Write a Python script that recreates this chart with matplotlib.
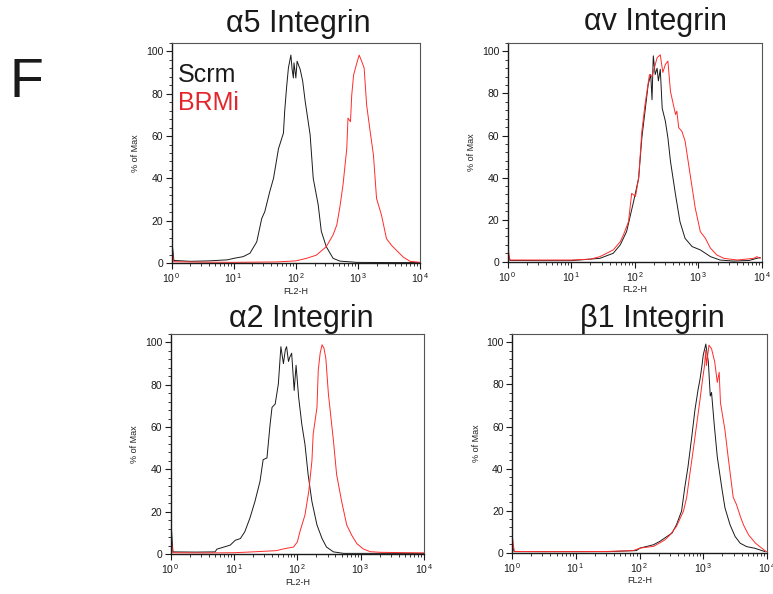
import numpy as np
import matplotlib
matplotlib.use('Agg')
import matplotlib.pyplot as plt
from matplotlib.ticker import FixedLocator, LogLocator, AutoMinorLocator, NullFormatter

plt.rcParams['font.family'] = ['Liberation Sans', 'DejaVu Sans']
plt.rcParams['mathtext.fontset'] = 'custom'
plt.rcParams['mathtext.rm'] = 'Liberation Sans'

# --------------------------------------------------------------------
# -- donnees (position en decades log10, % of Max)
# --------------------------------------------------------------------
titles = ['\u03b15 Integrin', '\u03b1v Integrin', '\u03b12 Integrin', '\u03b21 Integrin']
series_names = ['Scrm', 'BRMi']
x_ticks = [1, 10, 100, 1000, 10000]
x_tick_labels = [r'$\mathregular{10^{\,%d}}$' % k for k in range(5)]
y_ticks = [0, 20, 40, 60, 80, 100]

a5_scrm_dec = [0.005, 0.035, 0.3, 0.6, 0.9, 1.0, 1.15, 1.26, 1.37, 1.45, 1.50, 1.58, 1.64,
               1.72, 1.80, 1.82, 1.85, 1.88, 1.92, 1.94, 1.96, 1.97, 2.0, 2.02, 2.07, 2.11,
               2.15, 2.23, 2.28, 2.36, 2.41, 2.49, 2.60, 2.71, 2.98, 3.5, 4.0]
a5_scrm_pct = [10, 1.2, 0.8, 1.0, 1.5, 2.2, 3.0, 4.6, 10, 21, 24.3, 33.8, 40, 54, 61.4, 71.7,
               82.8, 92.2, 98.3, 91.5, 87.5, 94.6, 87.5, 95.4, 91.5, 86, 76.5, 60.6, 40,
               27.5, 15, 7.7, 2.2, 0.9, 0.3, 0.2, 0.2]
a5_brmi_dec = [0.005, 0.035, 0.5, 1.0, 1.69, 2.0, 2.17, 2.33, 2.49, 2.60, 2.66, 2.71, 2.76,
               2.82, 2.84, 2.88, 2.90, 2.93, 2.98, 3.02, 3.06, 3.10, 3.14, 3.19, 3.25, 3.30,
               3.38, 3.46, 3.54, 3.62, 3.73, 3.84, 4.0]
a5_brmi_pct = [6, 0.6, 0.4, 0.3, 0.5, 1.0, 2.2, 3.7, 7.7, 13.3, 18, 26.6, 37, 54, 68.5, 66.8,
               79.3, 88.8, 94.3, 98.3, 95.4, 92.2, 74.8, 63.7, 51, 30.5, 22.6, 11.5, 8.4, 6,
               2.8, 0.8, 0.3]

av_scrm_dec = [0.005, 0.035, 0.5, 1.0, 1.45, 1.66, 1.77, 1.87, 1.98, 2.06, 2.11, 2.16, 2.21,
               2.25, 2.27, 2.29, 2.32, 2.35, 2.37, 2.40, 2.43, 2.48, 2.52, 2.56, 2.64, 2.71,
               2.79, 2.90, 3.03, 3.19, 3.34, 3.55, 3.8, 3.92, 3.97]
av_scrm_pct = [4, 0.6, 0.5, 0.5, 1.6, 4, 8, 14.3, 28.6, 39.8, 58.9, 71.6, 84.3, 89, 77, 97.9,
               89, 92, 86, 91.5, 73, 66.8, 58.9, 47.8, 31.8, 19, 11.1, 7.2, 5.6, 2.4, 0.8,
               0.3, 0.6, 1.6, 2.0]
av_brmi_dec = [0.005, 0.035, 0.5, 1.0, 1.3, 1.45, 1.66, 1.77, 1.82, 1.90, 1.95, 2.01, 2.06,
               2.11, 2.16, 2.23, 2.27, 2.35, 2.40, 2.44, 2.48, 2.52, 2.56, 2.64, 2.66, 2.69,
               2.74, 2.79, 2.87, 2.95, 3.03, 3.11, 3.19, 3.29, 3.40, 3.61, 3.87, 3.92, 3.97]
av_brmi_pct = [6.5, 0.8, 0.8, 0.8, 1.2, 2.4, 5.6, 9.5, 12.7, 19, 32.5, 31, 39.8, 62, 74.8, 89,
               88, 97, 98.4, 90, 93.8, 95.4, 81, 70, 71.6, 63.7, 62, 57.4, 41.4, 25.5, 14.3,
               11.1, 6.4, 3.2, 1.6, 0.8, 1.6, 2.4, 1.6]

a2_scrm_dec = [0.005, 0.035, 0.4, 0.7, 0.73, 0.94, 1.02, 1.10, 1.17, 1.25, 1.33, 1.41, 1.46,
               1.52, 1.57, 1.60, 1.65, 1.70, 1.74, 1.78, 1.81, 1.83, 1.86, 1.88, 1.91, 1.95,
               1.98, 2.02, 2.07, 2.12, 2.17, 2.23, 2.31, 2.39, 2.46, 2.57, 2.73, 4.0]
a2_scrm_pct = [15, 1.0, 0.9, 1.0, 2.3, 4.2, 6.5, 7.3, 10.5, 16.9, 24.8, 34.3, 44.6, 45.4,
               61.4, 69.3, 70.9, 80.4, 98, 90, 96.5, 98, 91, 93, 94.9, 77.3, 89.2, 74.2,
               61.4, 51.9, 37.6, 24.8, 13.7, 7.3, 3.3, 1.0, 0.3, 0.3]
a2_brmi_dec = [0.005, 0.035, 0.5, 1.0, 1.36, 1.67, 1.78, 1.94, 2.0, 2.04, 2.12, 2.18, 2.23,
               2.25, 2.31, 2.33, 2.36, 2.39, 2.42, 2.45, 2.49, 2.57, 2.62, 2.70, 2.78, 2.86,
               2.94, 3.04, 3.15, 3.31, 4.0]
a2_brmi_pct = [8, 0.6, 0.5, 0.6, 1.1, 1.6, 2.4, 3.3, 5.7, 10.5, 18.4, 29.6, 44, 56.7, 69.3,
               86.8, 94.9, 98.9, 97.3, 92.5, 75.8, 53.5, 37.6, 24.8, 13.7, 8.8, 4.9, 2.4,
               1.1, 0.8, 0.5]

b1_scrm_dec = [0.005, 0.035, 0.5, 1.0, 1.5, 1.95, 2.01, 2.22, 2.32, 2.43, 2.51, 2.58, 2.66,
               2.71, 2.76, 2.82, 2.87, 2.92, 2.95, 2.98, 3.0, 3.04, 3.08, 3.11, 3.13, 3.17,
               3.22, 3.29, 3.34, 3.42, 3.50, 3.58, 3.68, 3.81, 3.97]
b1_scrm_pct = [3, 0.5, 0.5, 0.5, 0.5, 1.0, 2.2, 3.8, 5.4, 7.7, 9.3, 13.3, 19.8, 31, 40.7,
               55.2, 68, 77.8, 82.6, 89, 94, 99.2, 90.7, 74.5, 76.2, 61.7, 45.6, 31, 21.4,
               13.3, 7.7, 4.5, 2.9, 2.1, 0.5]
b1_brmi_dec = [0.005, 0.035, 0.5, 1.0, 1.5, 1.9, 2.01, 2.22, 2.40, 2.48, 2.58, 2.69, 2.74,
               2.79, 2.85, 2.90, 2.95, 2.99, 3.02, 3.04, 3.05, 3.09, 3.13, 3.18, 3.22, 3.25,
               3.27, 3.34, 3.39, 3.47, 3.52, 3.58, 3.63, 3.71, 3.82, 3.92, 3.99]
b1_brmi_pct = [7.7, 0.6, 0.5, 0.5, 0.6, 1.0, 2.2, 3.0, 6.1, 8.5, 12.5, 19.8, 26.3, 37.5,
               50.4, 61.7, 73, 82.6, 89, 96.3, 89, 98.7, 97, 90.7, 81, 85.8, 71.3, 58.4,
               45.6, 26.3, 23, 17.4, 13.3, 8.5, 4.5, 2.1, 0.5]

panels = [
    (a5_scrm_dec, a5_scrm_pct, a5_brmi_dec, a5_brmi_pct),
    (av_scrm_dec, av_scrm_pct, av_brmi_dec, av_brmi_pct),
    (a2_scrm_dec, a2_scrm_pct, a2_brmi_dec, a2_brmi_pct),
    (b1_scrm_dec, b1_scrm_pct, b1_brmi_dec, b1_brmi_pct),
]

# --------------------------------------------------------------------
# -- mise en page (pixels de l'image de reference, 773 x 594)
# --------------------------------------------------------------------
W, H = 773, 594
boxes = [(171.7, 43, 420, 263), (507.7, 43, 762, 261.7),
         (170.7, 334, 424, 554), (512, 334, 767, 552.7)]
title_pos = [(298, 32), (655, 30), (301, 327), (652, 327)]
BLACK = '#1a1a1a'
RED = '#ff2a2a'

fig = plt.figure(figsize=(W / 100, H / 100), dpi=100)

for i, (sx, sy, bx, by) in enumerate(panels):
    l, t, r, b = boxes[i]
    ax = fig.add_axes([l / W, 1 - b / H, (r - l) / W, (b - t) / H])
    ax.plot(10 ** np.array(sx), sy, color=BLACK, lw=0.7)
    ax.plot(10 ** np.array(bx), by, color=RED, lw=0.7)
    ax.set_xscale('log')
    ax.set_xlim(1, 10000)
    ax.set_ylim(0, 104)
    ax.xaxis.set_major_locator(FixedLocator(x_ticks))
    ax.set_xticklabels(x_tick_labels)
    ax.xaxis.set_minor_locator(LogLocator(base=10, subs=np.arange(2, 10)))
    ax.xaxis.set_minor_formatter(NullFormatter())
    ax.set_yticks(y_ticks)
    ax.yaxis.set_minor_locator(AutoMinorLocator(5))
    ax.tick_params(which='major', direction='out', length=4, width=0.8,
                   labelsize=7.5, pad=2, colors=BLACK)
    ax.tick_params(which='minor', direction='out', length=2.5, width=0.6, colors=BLACK)
    ax.set_xlabel('FL2-H', fontsize=6.5, labelpad=1.0, color='#222222')
    ax.set_ylabel('% of Max', fontsize=6.5, labelpad=4, color='#222222')
    for side in ['left', 'bottom']:
        ax.spines[side].set_color(BLACK)
        ax.spines[side].set_linewidth(1.0)
    for side in ['top', 'right']:
        ax.spines[side].set_color('#555555')
        ax.spines[side].set_linewidth(0.8)
    fig.text(title_pos[i][0] / W, 1 - title_pos[i][1] / H, titles[i],
             fontsize=22, ha='center', va='baseline', color=BLACK)
    if i == 0:
        ax.text(0.025, 0.823, series_names[0], transform=ax.transAxes,
                fontsize=18, color=BLACK, va='baseline', ha='left')
        ax.text(0.025, 0.695, series_names[1], transform=ax.transAxes,
                fontsize=18, color='#e3262b', va='baseline', ha='left')

fig.text(10 / W, 1 - 97 / H, 'F', fontsize=40, ha='left', va='baseline', color=BLACK)

fig.savefig('out.png', dpi=100)
